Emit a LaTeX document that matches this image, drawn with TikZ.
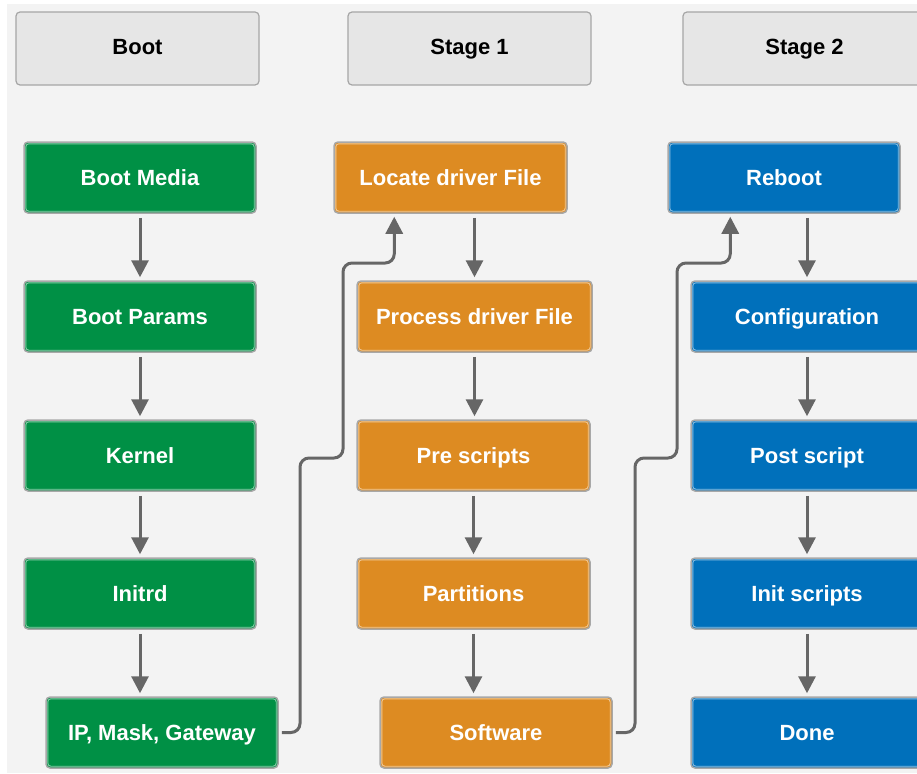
\documentclass[tikz,border=0pt]{standalone}
\usepackage{fontspec}
\setmainfont{Liberation Sans}
\usetikzlibrary{arrows.meta,calc}
\definecolor{bggray}{HTML}{F3F3F3}
\definecolor{hdrfill}{HTML}{E6E6E6}
\definecolor{hdrdraw}{HTML}{A6A6A6}
\definecolor{cgreen}{HTML}{009045}
\definecolor{corange}{HTML}{DD8B22}
\definecolor{cblue}{HTML}{0070BB}
\definecolor{boxedge}{HTML}{A8A8A8}
\definecolor{linegray}{HTML}{666666}
\tikzset{
  every node/.style={font=\fontsize{22}{26}\selectfont\bfseries, text height=16pt, text depth=0.5pt},
  hdr/.style={rectangle, rounded corners=4pt, fill=hdrfill, draw=hdrdraw, line width=1.2pt,
    minimum width=243pt, minimum height=73pt, text=black, inner sep=0pt, text depth=4.5pt},
  box/.style={rectangle, rounded corners=4pt, draw=boxedge, line width=1.5pt,
    minimum width=232pt, minimum height=71pt, text=white, inner sep=0pt,
    path picture={\draw[white,opacity=0.55,line width=0.9pt,rounded corners=3pt]
      ([shift={(1.8pt,-1.8pt)}]path picture bounding box.north west) rectangle
      ([shift={(-1.8pt,1.8pt)}]path picture bounding box.south east);}},
  gbox/.style={box, fill=cgreen},
  obox/.style={box, fill=corange},
  bbox/.style={box, fill=cblue},
  flow/.style={draw=linegray, line width=3pt, -{Triangle[width=17pt,length=17pt]},
    shorten >=3pt},
  conn/.style={flow, rounded corners=9pt}
}
\begin{document}
\begin{tikzpicture}[x=1pt,y=-1pt]
\useasboundingbox (0,0) rectangle (917,773);
\fill[white] (0,0) rectangle (917,773);
\fill[bggray] (7,4) rectangle (917,773);

% headers
\node[hdr] (hBoot) at (137.5,48.5) {Boot};
\node[hdr] (hS1) at (469.5,48.5) {Stage 1};
\node[hdr] (hS2) at (804.5,48.5) {Stage 2};

% Boot column
\node[gbox] (bmedia) at (140,177.5) {Boot Media};
\node[gbox] (bparams) at (140,316.5) {Boot Params};
\node[gbox] (kernel) at (140,455.5) {Kernel};
\node[gbox] (initrd) at (140,593.5) {Initrd};
\node[gbox] (ip) at (162,732.5) {IP, Mask, Gateway};

% Stage 1 column
\node[obox, minimum width=233pt] (locate) at (450.5,177.5) {Locate driver File};
\node[obox, minimum width=235pt] (process) at (474.5,316.5) {Process driver File};
\node[obox, minimum width=233pt] (pre) at (473.5,455.5) {Pre scripts};
\node[obox, minimum width=233pt] (part) at (473.5,593.5) {Partitions};
\node[obox] (soft) at (496,732.5) {Software};

% Stage 2 column
\node[bbox] (reboot) at (784,177.5) {Reboot};
\node[bbox] (config) at (807,316.5) {Configuration};
\node[bbox] (post) at (807,455.5) {Post script};
\node[bbox] (init) at (807,593.5) {Init scripts};
\node[bbox] (done) at (807,732.5) {Done};

% straight arrows
\draw[flow] ([yshift=-4pt]bmedia.south) -- (bparams.north);
\draw[flow] ([yshift=-4pt]bparams.south) -- (kernel.north);
\draw[flow] ([yshift=-4pt]kernel.south) -- (initrd.north);
\draw[flow] ([yshift=-4pt]initrd.south) -- (initrd.south |- ip.north);

\draw[flow] ([yshift=-4pt]process.north |- locate.south) -- (process.north);
\draw[flow] ([yshift=-4pt]process.south) -- (process.south |- pre.north);
\draw[flow] ([yshift=-4pt]pre.south) -- (part.north);
\draw[flow] ([yshift=-4pt]part.south) -- (part.south |- soft.north);

\draw[flow] ([yshift=-4pt]config.north |- reboot.south) -- (config.north);
\draw[flow] ([yshift=-4pt]config.south) -- (post.north);
\draw[flow] ([yshift=-4pt]post.south) -- (init.north);
\draw[flow] ([yshift=-4pt]init.south) -- (done.north);

% cross-stage connectors
\draw[conn] ([xshift=3pt]ip.east) -| (300,458) -| (343,263) -| ([xshift=61pt]locate.south west);
\draw[conn] ([xshift=3pt]soft.east) -| (635,458) -| (677,263) -| ([xshift=63pt]reboot.south west);
\end{tikzpicture}
\end{document}
